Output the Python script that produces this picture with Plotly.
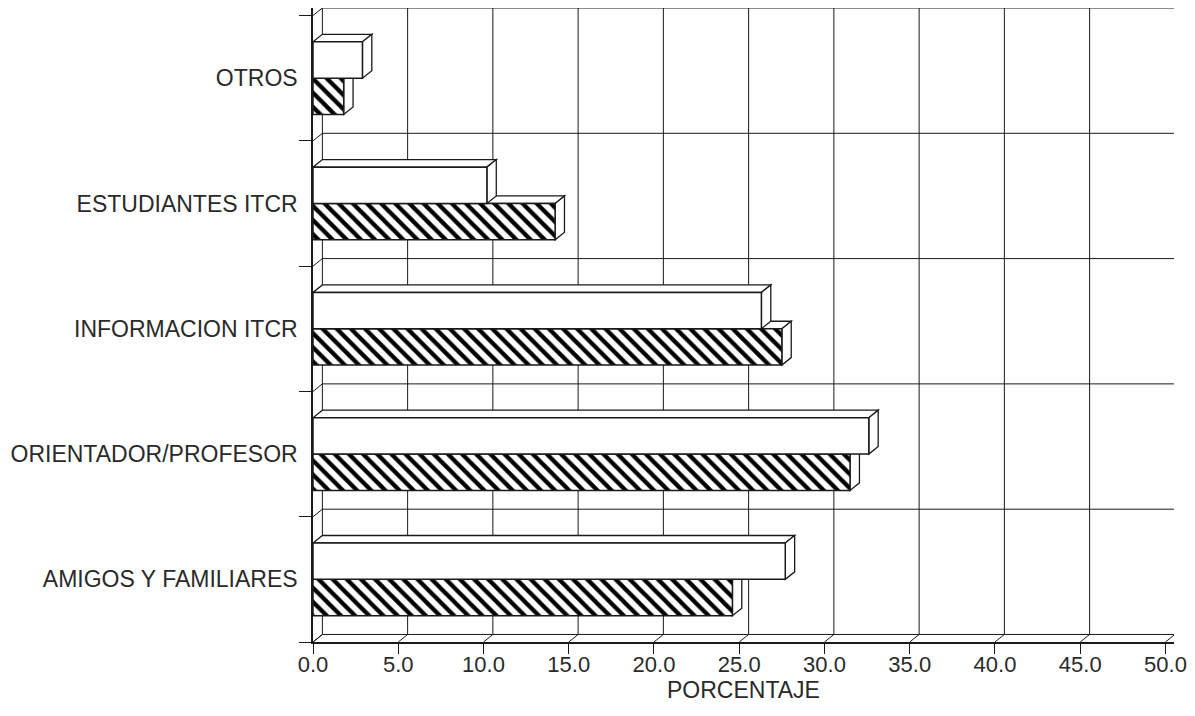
import plotly.graph_objects as go

# ---- data (bottom -> top) ----
categories = ["AMIGOS Y FAMILIARES", "ORIENTADOR/PROFESOR", "INFORMACION ITCR",
              "ESTUDIANTES ITCR", "OTROS"]
serie_blanca = [27.7, 32.6, 26.3, 10.2, 2.9]
serie_rayada = [24.6, 31.5, 27.5, 14.2, 1.8]
x_ticks = [0, 5, 10, 15, 20, 25, 30, 35, 40, 45, 50]
x_ticklabels = ["0.0", "5.0", "10.0", "15.0", "20.0", "25.0", "30.0", "35.0", "40.0", "45.0", "50.0"]
x_title = "PORCENTAJE"

# ---- style ----
FONT = "Liberation Sans, Arial, sans-serif"
INK = "#1a1a1a"
TXT = "#2a2a2a"
BW = 0.29          # bar thickness (category units)
DX, DY = 0.55, 0.06  # pseudo-3D depth

pos = list(range(len(categories)))

fig = go.Figure()
fig.add_trace(go.Bar(
    y=pos, x=serie_rayada, orientation="h", width=BW, offset=-BW,
    marker=dict(color="white", line=dict(color=INK, width=1.5),
                pattern=dict(shape="\\", fgcolor="#000000", fgopacity=1, bgcolor="white",
                             size=10, solidity=0.42, fillmode="replace")),
    showlegend=False, hoverinfo="x"))
fig.add_trace(go.Bar(
    y=pos, x=serie_blanca, orientation="h", width=BW, offset=0,
    marker=dict(color="white", line=dict(color=INK, width=1.5)),
    showlegend=False, hoverinfo="x"))

shapes = []
def face(pts):
    d = "M " + " L ".join(f"{a},{b}" for a, b in pts) + " Z"
    return dict(type="path", path=d, xref="x", yref="y", layer="between",
                fillcolor="white", line=dict(color=INK, width=1.3))

# depth faces for bars
for series, off in ((serie_rayada, -BW), (serie_blanca, 0.0)):
    for p, v in zip(pos, series):
        y0 = p + off
        y1 = y0 + BW
        shapes.append(face([(0, y1), (DX, y1 + DY), (v + DX, y1 + DY), (v, y1)]))
        shapes.append(face([(v, y0), (v, y1), (v + DX, y1 + DY), (v + DX, y0 + DY)]))

ymin, ymax = -0.5, len(categories) - 0.5
# back-plane vertical grid lines and floor slants
for t in x_ticks:
    shapes.append(dict(type="line", xref="x", yref="y", layer="below",
                       x0=t + DX, x1=t + DX, y0=ymin + DY, y1=ymax + DY,
                       line=dict(color=INK, width=1)))
    shapes.append(dict(type="line", xref="x", yref="y", layer="below",
                       x0=t, x1=t + DX, y0=ymin, y1=ymin + DY,
                       line=dict(color=INK, width=1)))
# back-plane horizontal grid lines and left slants
bounds = [b - 0.5 for b in range(len(categories) + 1)]
for b in bounds:
    shapes.append(dict(type="line", xref="x", yref="y", layer="below",
                       x0=DX, x1=x_ticks[-1] + DX, y0=b + DY, y1=b + DY,
                       line=dict(color=INK, width=1)))
    shapes.append(dict(type="line", xref="x", yref="y", layer="below",
                       x0=0, x1=DX, y0=b, y1=b + DY,
                       line=dict(color=INK, width=1)))

fig.update_layout(
    width=1187, height=708,
    margin=dict(l=305, r=21, t=0, b=74),
    paper_bgcolor="white", plot_bgcolor="white",
    font=dict(family=FONT, size=22, color=TXT),
    barmode="overlay",
    shapes=shapes,
    xaxis=dict(range=[0, 50.5], tickvals=x_ticks, ticktext=x_ticklabels,
               showgrid=False, zeroline=False, showline=True, linecolor=INK, linewidth=1.5,
               ticks="outside", ticklen=10, tickcolor=INK, ticklabelstandoff=-8,
               title=dict(text=x_title, standoff=2, font=dict(size=23)),
               tickfont=dict(size=22)),
    yaxis=dict(range=[-0.5, 4.5 + DY], tickvals=pos, ticktext=categories,
               showgrid=False, zeroline=False, showline=True, linecolor=INK, linewidth=1.5,
               ticks="", ticklabelstandoff=9,
               minor=dict(tickvals=bounds, ticks="outside", ticklen=12, tickcolor=INK,
                          showgrid=False),
               tickfont=dict(size=23)),
)

fig.write_html("out.html")
